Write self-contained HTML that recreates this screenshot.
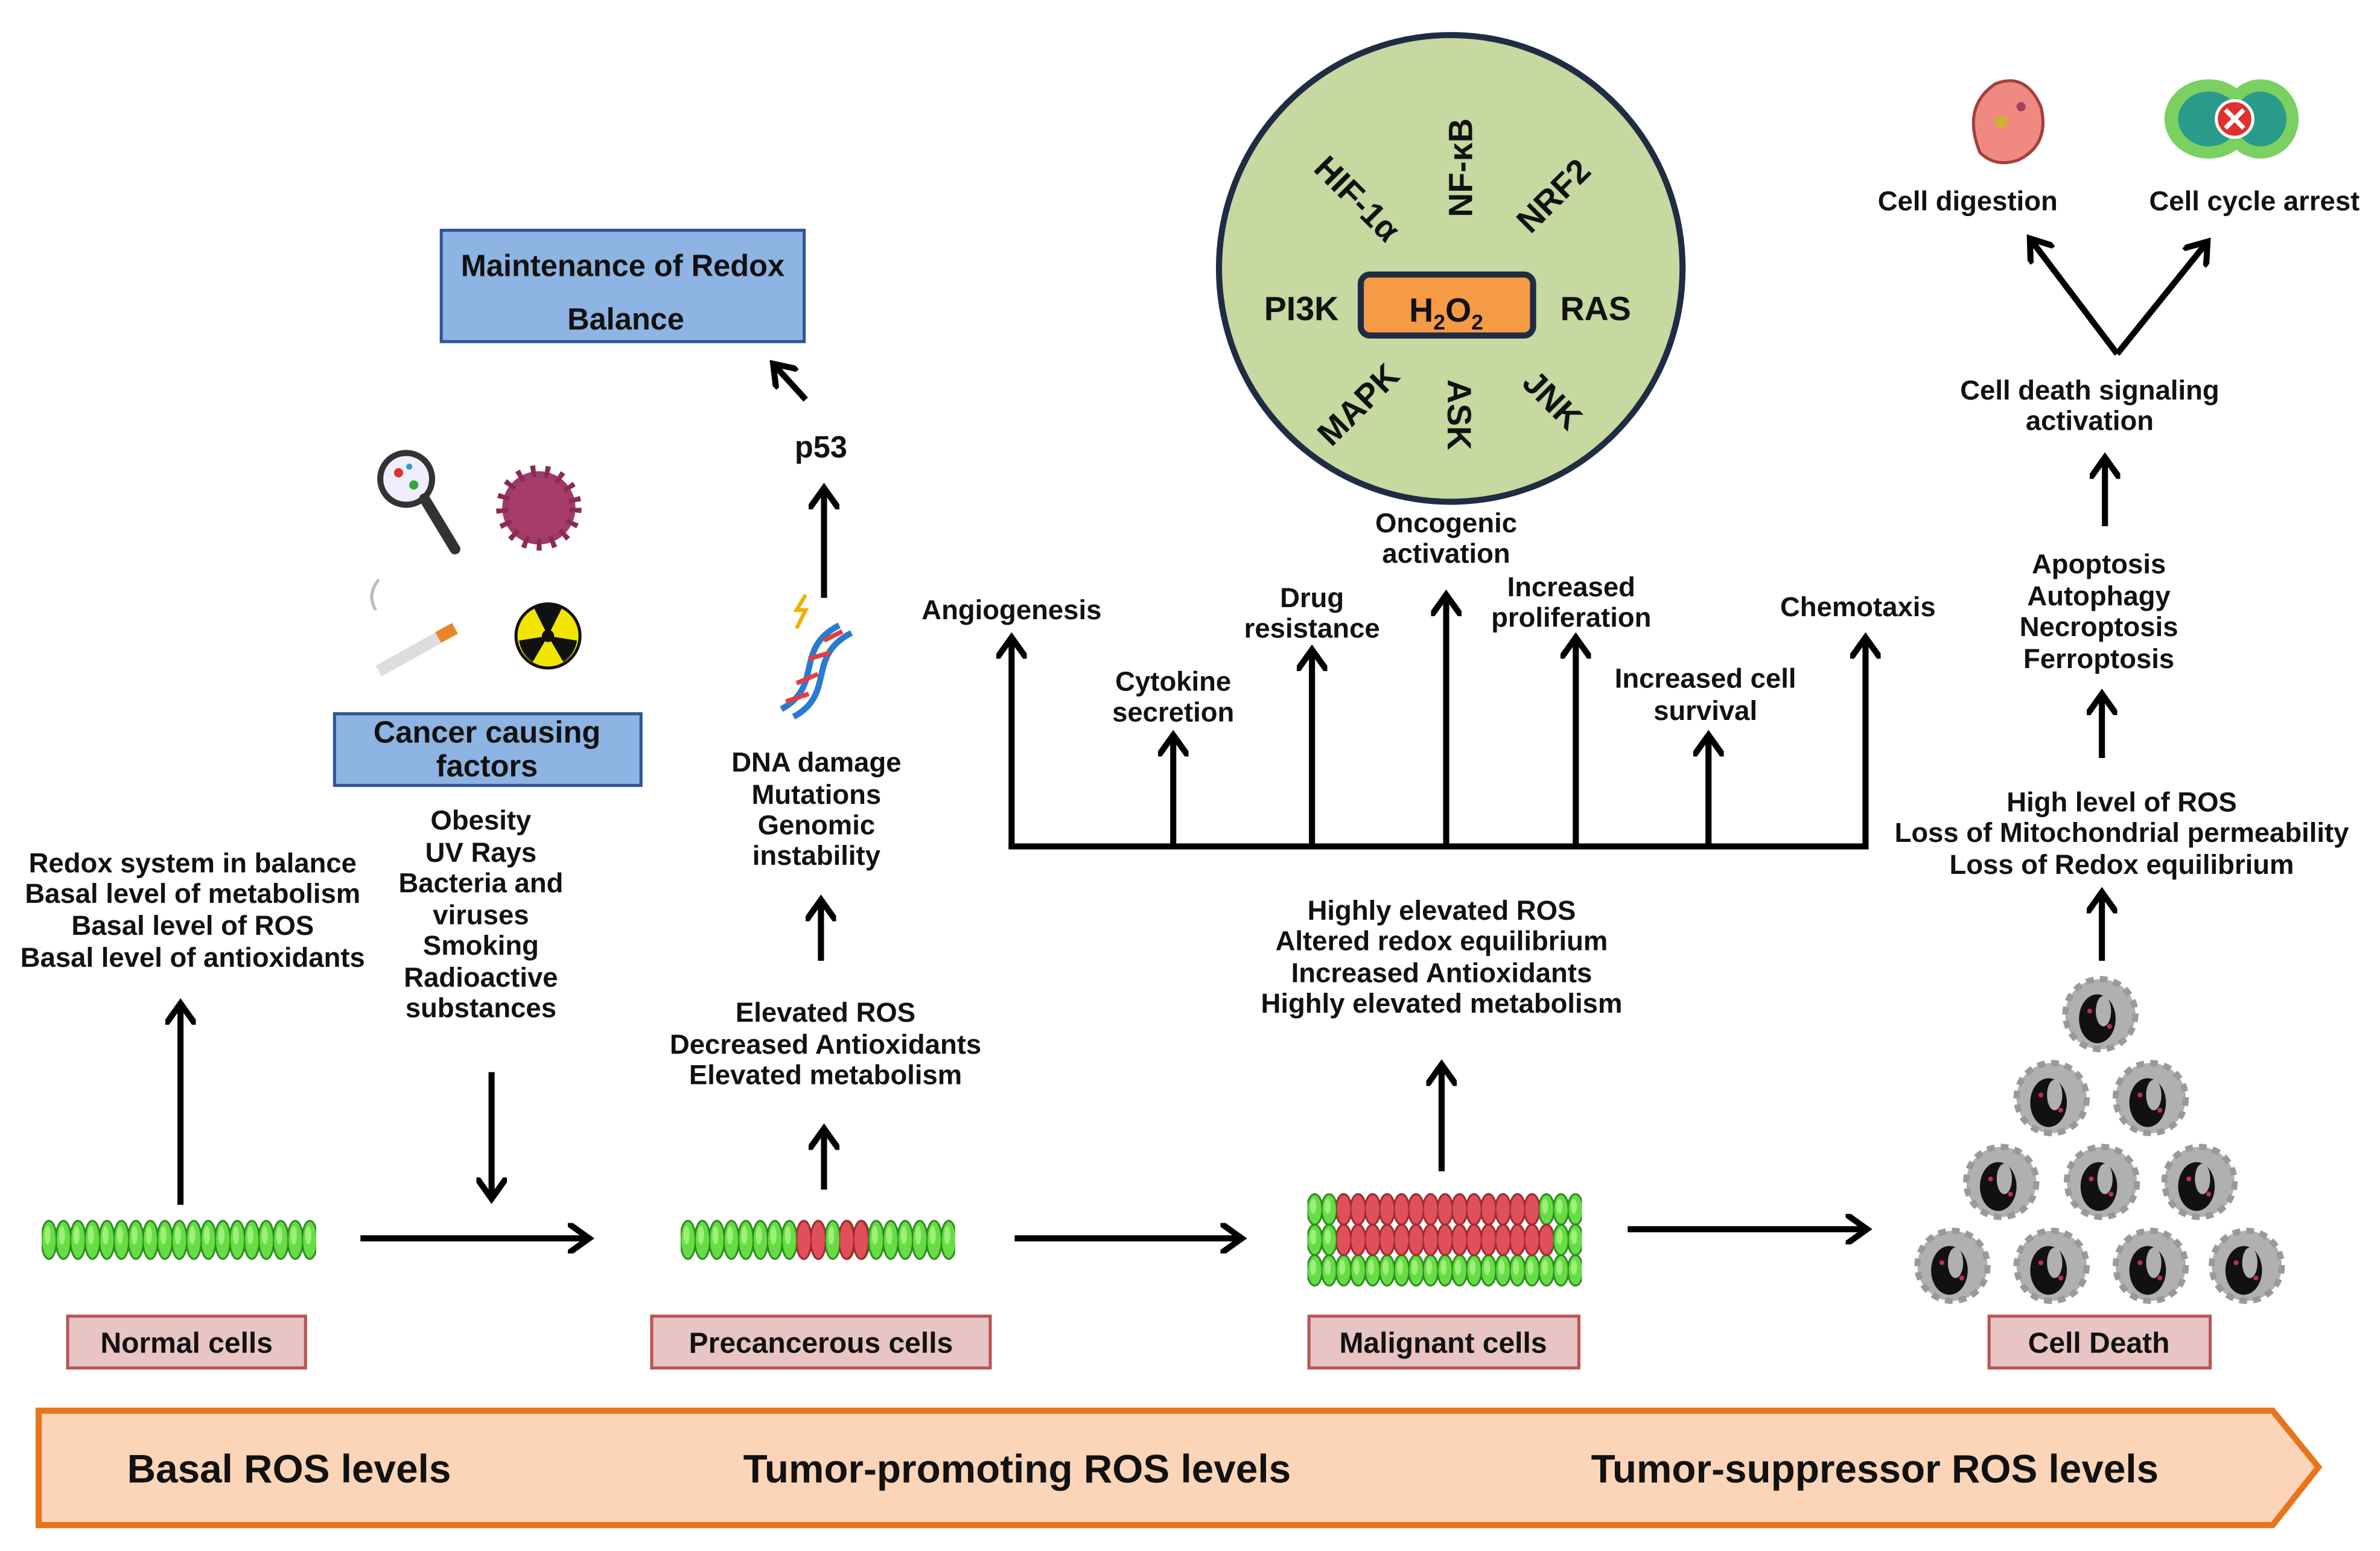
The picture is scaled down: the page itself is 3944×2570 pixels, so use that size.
<!DOCTYPE html>
<html><head><meta charset="utf-8"><style>
html,body{margin:0;padding:0;background:#fff;}
svg{display:block;}
text{font-family:"Liberation Sans",sans-serif;font-weight:bold;fill:#111;}
</style></head><body>
<svg width="3944" height="2570" viewBox="0 0 1560 1017" xmlns="http://www.w3.org/2000/svg">
<defs>
<marker id="ah" viewBox="0 0 10 10" refX="6" refY="5" markerWidth="5" markerHeight="5" orient="auto" markerUnits="strokeWidth">
<path d="M0,0 L7,5 L0,10" fill="none" stroke="#000" stroke-width="2"/>
</marker>
<pattern id="gc" x="0" y="0" width="9.5" height="28" patternUnits="userSpaceOnUse">
<ellipse cx="4.75" cy="14" rx="5" ry="12.5" fill="#66dd44" stroke="#2c8c1e" stroke-width="1.2"/>
<ellipse cx="3.8" cy="11" rx="2" ry="6" fill="#9ef07a"/>
</pattern>
<pattern id="rc" x="0" y="0" width="9.5" height="28" patternUnits="userSpaceOnUse">
<ellipse cx="4.75" cy="14" rx="5" ry="12.5" fill="#e0505a" stroke="#a02a30" stroke-width="1.2"/>
</pattern>
<pattern id="gs" x="0" y="0" width="9.5" height="22" patternUnits="userSpaceOnUse">
<ellipse cx="4.75" cy="11" rx="5" ry="10" fill="#66dd44" stroke="#2c8c1e" stroke-width="1.2"/>
<ellipse cx="3.8" cy="9" rx="2" ry="5" fill="#9ef07a"/>
</pattern>
<pattern id="rs" x="0" y="0" width="9.5" height="22" patternUnits="userSpaceOnUse">
<ellipse cx="4.75" cy="11" rx="5" ry="10" fill="#e0505a" stroke="#a02a30" stroke-width="1.2"/>
</pattern>
<g id="dead">
<circle r="23" fill="#b0b0b0" stroke="#999" stroke-width="4" stroke-dasharray="5 4"/>
<ellipse cx="-2" cy="3" rx="12" ry="16" fill="#111"/>
<ellipse cx="2" cy="-2" rx="5" ry="10" fill="#b0b0b0"/>
<circle cx="-7" cy="-2" r="1.6" fill="#c0304a"/><circle cx="6" cy="8" r="1.6" fill="#c0304a"/>
</g>
</defs>
<g stroke="#000" stroke-width="4" fill="none" marker-end="url(#ah)">
<line x1="118" y1="790" x2="118" y2="660"/>
<line x1="322" y1="703" x2="322" y2="784"/>
<line x1="236" y1="812" x2="384" y2="812"/>
<line x1="540" y1="780" x2="540" y2="742"/>
<line x1="538" y1="630" x2="538" y2="592"/>
<line x1="540" y1="392" x2="540" y2="322"/>
<line x1="528" y1="262" x2="508" y2="240"/>
<line x1="665" y1="812" x2="812" y2="812"/>
<line x1="945" y1="768" x2="945" y2="700"/>
<line x1="1067" y1="806" x2="1222" y2="806"/>
<line x1="663" y1="555" x2="663" y2="420"/>
<line x1="769" y1="555" x2="769" y2="484"/>
<line x1="860" y1="555" x2="860" y2="428"/>
<line x1="948" y1="555" x2="948" y2="392"/>
<line x1="1033" y1="555" x2="1033" y2="420"/>
<line x1="1120" y1="555" x2="1120" y2="484"/>
<line x1="1223" y1="555" x2="1223" y2="420"/>
<line x1="1378" y1="630" x2="1378" y2="587"/>
<line x1="1378" y1="497" x2="1378" y2="457"/>
<line x1="1380" y1="345" x2="1380" y2="302"/>
<line x1="1388" y1="232" x2="1332" y2="158"/>
<line x1="1388" y1="232" x2="1446" y2="160"/>
</g>
<line x1="661" y1="555" x2="1225" y2="555" stroke="#000" stroke-width="4"/>

<path d="M25,925 L1490,925 L1520,962 L1490,1000 L25,1000 Z" fill="#fcd5b8" stroke="#e8741c" stroke-width="4"/>
<text x="83" y="972" font-size="26">Basal ROS levels</text>
<text x="487" y="972" font-size="26">Tumor-promoting ROS levels</text>
<text x="1043" y="972" font-size="26">Tumor-suppressor ROS levels</text>

<g fill="#e9c4c4" stroke="#b85555" stroke-width="2">
<rect x="44" y="863" width="156" height="34"/>
<rect x="427" y="863" width="222" height="34"/>
<rect x="858" y="863" width="177" height="34"/>
<rect x="1304" y="863" width="145" height="34"/>
</g>
<g font-size="19" text-anchor="middle">
<text x="122" y="887">Normal cells</text>
<text x="538" y="887">Precancerous cells</text>
<text x="946" y="887">Malignant cells</text>
<text x="1376" y="887">Cell Death</text>
</g>

<!-- cells -->
<rect transform="translate(27,799)" width="180" height="28" fill="url(#gc)"/>
<rect transform="translate(446,799)" width="180" height="28" fill="url(#gc)"/>
<rect transform="translate(522,799)" width="19" height="28" fill="url(#rc)"/>
<rect transform="translate(550,799)" width="19" height="28" fill="url(#rc)"/>
<rect transform="translate(857,782)" width="180" height="22" fill="url(#gs)"/>
<rect transform="translate(857,802)" width="180" height="22" fill="url(#gs)"/>
<rect transform="translate(857,822)" width="180" height="22" fill="url(#gs)"/>
<rect transform="translate(876,782)" width="133" height="22" fill="url(#rs)"/>
<rect transform="translate(876,802)" width="142" height="22" fill="url(#rs)"/>

<use href="#dead" x="1377" y="665"/>
<use href="#dead" x="1345" y="720"/><use href="#dead" x="1410" y="720"/>
<use href="#dead" x="1312" y="775"/><use href="#dead" x="1378" y="775"/><use href="#dead" x="1442" y="775"/>
<use href="#dead" x="1280" y="830"/><use href="#dead" x="1345" y="830"/><use href="#dead" x="1410" y="830"/><use href="#dead" x="1473" y="830"/>

<g font-size="18" text-anchor="middle">
<text x="126" y="572">Redox system in balance</text>
<text x="126" y="592">Basal level of metabolism</text>
<text x="126" y="613">Basal level of ROS</text>
<text x="126" y="634">Basal level of antioxidants</text>
<text x="315" y="544">Obesity</text>
<text x="315" y="565">UV Rays</text>
<text x="315" y="585">Bacteria and</text>
<text x="315" y="606">viruses</text>
<text x="315" y="626">Smoking</text>
<text x="315" y="647">Radioactive</text>
<text x="315" y="667">substances</text>
<text x="541" y="670">Elevated ROS</text>
<text x="541" y="691">Decreased Antioxidants</text>
<text x="541" y="711">Elevated metabolism</text>
<text x="535" y="506">DNA damage</text>
<text x="535" y="527">Mutations</text>
<text x="535" y="547">Genomic</text>
<text x="535" y="567">instability</text>
<text x="538" y="300" font-size="20">p53</text>
<text x="945" y="603">Highly elevated ROS</text>
<text x="945" y="623">Altered redox equilibrium</text>
<text x="945" y="644">Increased Antioxidants</text>
<text x="945" y="664">Highly elevated metabolism</text>
<text x="663" y="406">Angiogenesis</text>
<text x="769" y="453">Cytokine</text><text x="769" y="473">secretion</text>
<text x="860" y="398">Drug</text><text x="860" y="418">resistance</text>
<text x="948" y="349">Oncogenic</text><text x="948" y="369">activation</text>
<text x="1030" y="391">Increased</text><text x="1030" y="411">proliferation</text>
<text x="1118" y="451">Increased cell</text><text x="1118" y="472">survival</text>
<text x="1218" y="404">Chemotaxis</text>
<text x="1391" y="532">High level of ROS</text>
<text x="1391" y="552">Loss of Mitochondrial permeability</text>
<text x="1391" y="573">Loss of Redox equilibrium</text>
<text x="1376" y="376">Apoptosis</text>
<text x="1376" y="397">Autophagy</text>
<text x="1376" y="417">Necroptosis</text>
<text x="1376" y="438">Ferroptosis</text>
<text x="1370" y="262">Cell death signaling</text>
<text x="1370" y="282">activation</text>
<text x="1290" y="138">Cell digestion</text>
<text x="1478" y="138">Cell cycle arrest</text>
</g>

<rect x="289" y="151" width="238" height="73" fill="#8db4e2" stroke="#2f5597" stroke-width="2"/>
<text x="408" y="181" font-size="20" text-anchor="middle">Maintenance of Redox</text>
<text x="410" y="216" font-size="20" text-anchor="middle">Balance</text>
<rect x="219" y="468" width="201" height="47" fill="#8db4e2" stroke="#2f5597" stroke-width="2"/>
<text x="319" y="487" font-size="20" text-anchor="middle">Cancer causing</text>
<text x="319" y="509" font-size="20" text-anchor="middle">factors</text>

<circle cx="266" cy="314" r="17" fill="#eef" stroke="#333" stroke-width="4"/>
<circle cx="261" cy="310" r="3" fill="#d33"/><circle cx="271" cy="318" r="3" fill="#3a3"/><circle cx="268" cy="306" r="2" fill="#39c"/>
<line x1="278" y1="327" x2="298" y2="360" stroke="#333" stroke-width="7" stroke-linecap="round"/>
<circle cx="353" cy="333" r="24" fill="#a03a66" stroke="#8a2a55" stroke-width="8" stroke-dasharray="3 6"/>
<circle cx="353" cy="333" r="20" fill="#a83d6c"/>
<line x1="248" y1="440" x2="298" y2="412" stroke="#ddd" stroke-width="8"/>
<line x1="287" y1="418" x2="298" y2="412" stroke="#e9852a" stroke-width="8"/>
<path d="M246,400 q-6,-10 2,-20" stroke="#bbb" stroke-width="2" fill="none"/>
<circle cx="359" cy="417" r="21" fill="#f2e600" stroke="#111" stroke-width="2"/>
<circle cx="359" cy="417" r="4" fill="#111"/>
<g fill="#111"><path d="M359,417 L350,399 A20,20 0 0 1 368,399 Z"/><path d="M359,417 L378,420 A20,20 0 0 1 369,434 Z"/><path d="M359,417 L349,434 A20,20 0 0 1 340,420 Z"/></g>
<path d="M512,465 C540,450 520,425 550,410 M520,470 C548,455 528,430 558,415" stroke="#2a7ad0" stroke-width="4" fill="none"/>
<path d="M515,460 L530,455 M522,448 L536,442 M530,432 L544,428 M540,420 L552,414" stroke="#e04040" stroke-width="3"/>
<path d="M528,390 l-6,10 h6 l-6,12" stroke="#f0b000" stroke-width="2.5" fill="none"/>

<ellipse cx="951" cy="176" rx="152" ry="153" fill="#c5d9a0" stroke="#1e2d44" stroke-width="4"/>
<rect x="892" y="180" width="113" height="40" rx="6" fill="#f59a45" stroke="#1e2d44" stroke-width="4"/>
<text x="948" y="211" font-size="22" text-anchor="middle">H<tspan font-size="14" dy="5">2</tspan><tspan dy="-5">O</tspan><tspan font-size="14" dy="5">2</tspan></text>
<g font-size="22" text-anchor="middle">
<text x="853" y="210">PI3K</text>
<text x="1046" y="210">RAS</text>
<text transform="translate(890,130) rotate(45)" y="8">HIF-1α</text>
<text transform="translate(957,110) rotate(-90)" y="8">NF-κB</text>
<text transform="translate(1018,128) rotate(-45)" y="8">NRF2</text>
<text transform="translate(890,265) rotate(-45)" y="8">MAPK</text>
<text transform="translate(957,272) rotate(90)" y="8">ASK</text>
<text transform="translate(1018,262) rotate(45)" y="8">JNK</text>
</g>

<path d="M1298,100 q-12,-30 10,-45 q20,-8 30,15 q6,25 -15,35 q-15,5 -25,-5 z" fill="#f08a80" stroke="#a04040" stroke-width="2"/>
<circle cx="1312" cy="80" r="4" fill="#d0b030"/><circle cx="1325" cy="70" r="3" fill="#a04060"/>
<ellipse cx="1448" cy="78" rx="29" ry="26" fill="#7ad060"/>
<ellipse cx="1482" cy="78" rx="25" ry="26" fill="#7ad060"/>
<ellipse cx="1448" cy="78" rx="20" ry="18" fill="#2a9a8a"/>
<ellipse cx="1482" cy="78" rx="17" ry="18" fill="#2a9a8a"/>
<circle cx="1465" cy="78" r="12" fill="#e03030" stroke="#fff" stroke-width="2"/>
<path d="M1459,72 l12,12 M1471,72 l-12,12" stroke="#fff" stroke-width="3"/>
</svg>
</body></html>
